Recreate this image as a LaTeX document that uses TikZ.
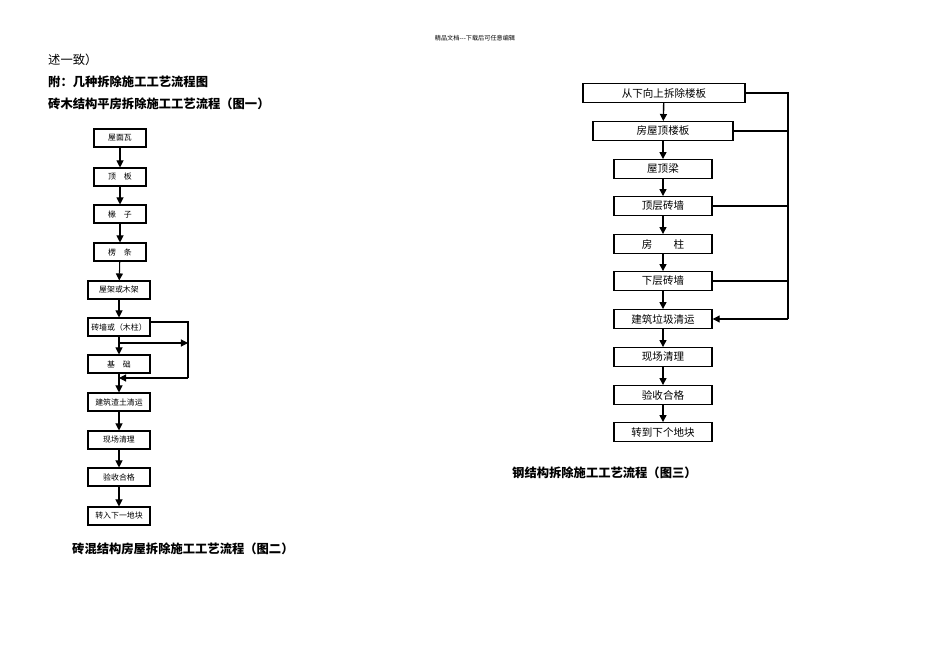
\documentclass[tikz,border=0pt]{standalone}
\usepackage{fontspec}
\newfontfamily\cjk{Noto Sans CJK SC}
\usetikzlibrary{arrows.meta}
\tikzset{
  lbox/.style={draw, semithick, minimum width=1.04cm, minimum height=0.36cm, inner sep=0pt, font=\cjk\fontsize{4.5}{4.5}\selectfont},
  rbox/.style={draw, thick, minimum height=0.37cm, inner sep=0pt, font=\cjk\fontsize{6}{6}\selectfont},
  flow/.style={-{Triangle[length=4pt,width=4pt]}, semithick},
  heading/.style={anchor=west, font=\cjk\bfseries\fontsize{7}{7}\selectfont}
}
\begin{document}
\begin{tikzpicture}[x=0.02cm, y=-0.02cm]
\useasboundingbox (0,0) rectangle (950,672);
% Headings
\node [font=\cjk\fontsize{3.5}{3.5}\selectfont] at (475,38) {精品文档---下载后可任意编辑};
\node [anchor=west, font=\cjk\fontsize{7}{7}\selectfont] at (42,60) {述一致）};
\node [heading] at (42,82) {附：几种拆除施工工艺流程图};
\node [heading] at (42,104) {砖木结构平房拆除施工工艺流程（图一）};
\node [heading] at (66,549) {砖混结构房屋拆除施工工艺流程（图二）};
\node [heading] at (506,473) {钢结构拆除施工工艺流程（图三）};

% Left chart
\node [lbox] (a1) at (120,138) {屋面瓦};
\node [lbox] (a2) at (120,177) {顶\quad 板};
\node [lbox] (a3) at (120,214) {椽\quad 子};
\node [lbox] (a4) at (120,252) {楞\quad 条};
\node [lbox, minimum width=1.24cm] (a5) at (119,290) {屋架或木架};
\node [lbox, minimum width=1.24cm] (a6) at (119,327) {砖墙或（木柱）};
\node [lbox, minimum width=1.24cm] (a7) at (119,364) {基\quad 础};
\node [lbox, minimum width=1.24cm] (a8) at (119,402) {建筑渣土清运};
\node [lbox, minimum width=1.24cm] (a9) at (119,440) {现场清理};
\node [lbox, minimum width=1.24cm] (a10) at (119,477) {验收合格};
\node [lbox, minimum width=1.24cm] (a11) at (119,516) {转入下一地块};
\foreach \i/\j in {1/2,2/3,3/4,4/5,5/6,6/7,7/8,8/9,9/10,10/11}
  \draw [flow] (a\i) -- (a\j);
\coordinate (ltop) at (188,322);
\coordinate (lmid) at (188,343);
\coordinate (lbot) at (188,378);
\coordinate (lin) at (119,343);
\coordinate (lback) at (119,378);
\draw [semithick] (a6.east |- ltop) -- (ltop) -- (lbot);
\draw [flow] (lin) -- (lmid);
\draw [flow] (lbot) -- (lback);

% Right chart
\node [rbox, minimum width=3.24cm] (b1) at (664,93) {从下向上拆除楼板};
\node [rbox, minimum width=2.8cm] (b2) at (663,131) {房屋顶楼板};
\node [rbox, minimum width=1.96cm] (b3) at (663,169) {屋顶梁};
\node [rbox, minimum width=1.96cm] (b4) at (663,206) {顶层砖墙};
\node [rbox, minimum width=1.96cm] (b5) at (663,244) {房\qquad 柱};
\node [rbox, minimum width=1.96cm] (b6) at (663,281) {下层砖墙};
\node [rbox, minimum width=1.96cm] (b7) at (663,319) {建筑垃圾清运};
\node [rbox, minimum width=1.96cm] (b8) at (663,357) {现场清理};
\node [rbox, minimum width=1.96cm] (b9) at (663,395) {验收合格};
\node [rbox, minimum width=1.96cm] (b10) at (663,432) {转到下个地块};
\foreach \i/\j in {1/2,2/3,3/4,4/5,5/6,6/7,7/8,8/9,9/10}
  \draw [flow, thick] (b\i) -- (b\j);
\coordinate (rtop) at (788,93);
\coordinate (rbot) at (788,319);
\draw [semithick] (b1.east) -- (rtop) -- (rbot);
\draw [flow] (rbot) -- (b7.east);
\foreach \k in {2,4,6}
  \draw [semithick] (b\k.east) -- (b\k.east -| rtop);
\end{tikzpicture}
\end{document}
